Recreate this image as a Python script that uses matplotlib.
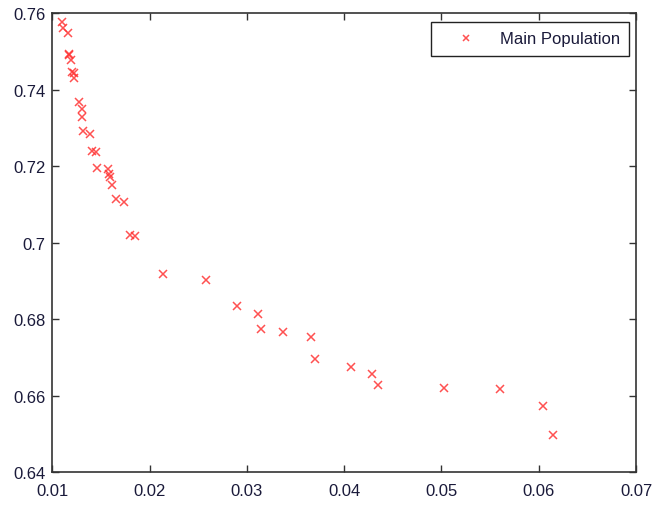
import matplotlib
matplotlib.use("Agg")
import matplotlib.pyplot as plt
import numpy as np

# values
x_vals = [0.0110, 0.0111, 0.0116, 0.0117, 0.0117, 0.0119, 0.0120, 0.0122, 0.0122,
          0.0127, 0.0131, 0.0131, 0.0132, 0.0139, 0.0141, 0.0145, 0.0146, 0.0157,
          0.0158, 0.0159, 0.0161, 0.0166, 0.0174, 0.0180, 0.0185, 0.0214, 0.0258,
          0.0290, 0.0311, 0.0315, 0.0337, 0.0366, 0.0370, 0.0407, 0.0429, 0.0435,
          0.0503, 0.0560, 0.0604, 0.0615]
y_vals = [0.7576, 0.7562, 0.7547, 0.7493, 0.7489, 0.7477, 0.7445, 0.7442, 0.7431,
          0.7367, 0.7349, 0.7327, 0.7291, 0.7285, 0.7239, 0.7236, 0.7196, 0.7192,
          0.7180, 0.7171, 0.7150, 0.7115, 0.7105, 0.7020, 0.7018, 0.6918, 0.6901,
          0.6834, 0.6813, 0.6774, 0.6766, 0.6753, 0.6695, 0.6675, 0.6655, 0.6627,
          0.6620, 0.6617, 0.6572, 0.6496]
xticks = [0.01, 0.02, 0.03, 0.04, 0.05, 0.06, 0.07]
yticks = [0.64, 0.66, 0.68, 0.7, 0.72, 0.74, 0.76]

plt.rcParams['font.family'] = ['Liberation Sans', 'DejaVu Sans']

fig = plt.figure(figsize=(6.55, 5.06), dpi=100)
ax = fig.add_axes([0.0798, 0.0652, 0.8912, 0.9071])

ax.plot(x_vals, y_vals, 'x', color='#ff3333', alpha=0.85, markersize=6,
        markeredgewidth=1.1, label='Main Population')

ax.set_xlim(0.01, 0.07)
ax.set_ylim(0.64, 0.76)
ax.set_xticks(xticks)
ax.set_yticks(yticks)
ax.set_xticklabels([f"{v:g}" for v in xticks])
ax.set_yticklabels([f"{v:g}" for v in yticks])
ax.tick_params(direction='in', top=True, right=True, length=5, width=1,
               labelsize=12, colors='#333333')
ax.tick_params(axis='y', pad=5)
ax.tick_params(axis='x', pad=8)
ax.tick_params(labelcolor='#1a1a3a')
for s in ax.spines.values():
    s.set_linewidth(1.2)
    s.set_color('#333333')

leg = ax.legend(loc='upper right', bbox_to_anchor=(0.988, 0.98), fontsize=12,
                fancybox=False, framealpha=1, edgecolor='#222222',
                borderpad=0.55, handlelength=3.2, handletextpad=0.4,
                borderaxespad=0, markerscale=0.8)
leg.get_frame().set_linewidth(1.0)
for t in leg.get_texts():
    t.set_color('#1a1a3a')

plt.savefig('out.png', dpi=100)
